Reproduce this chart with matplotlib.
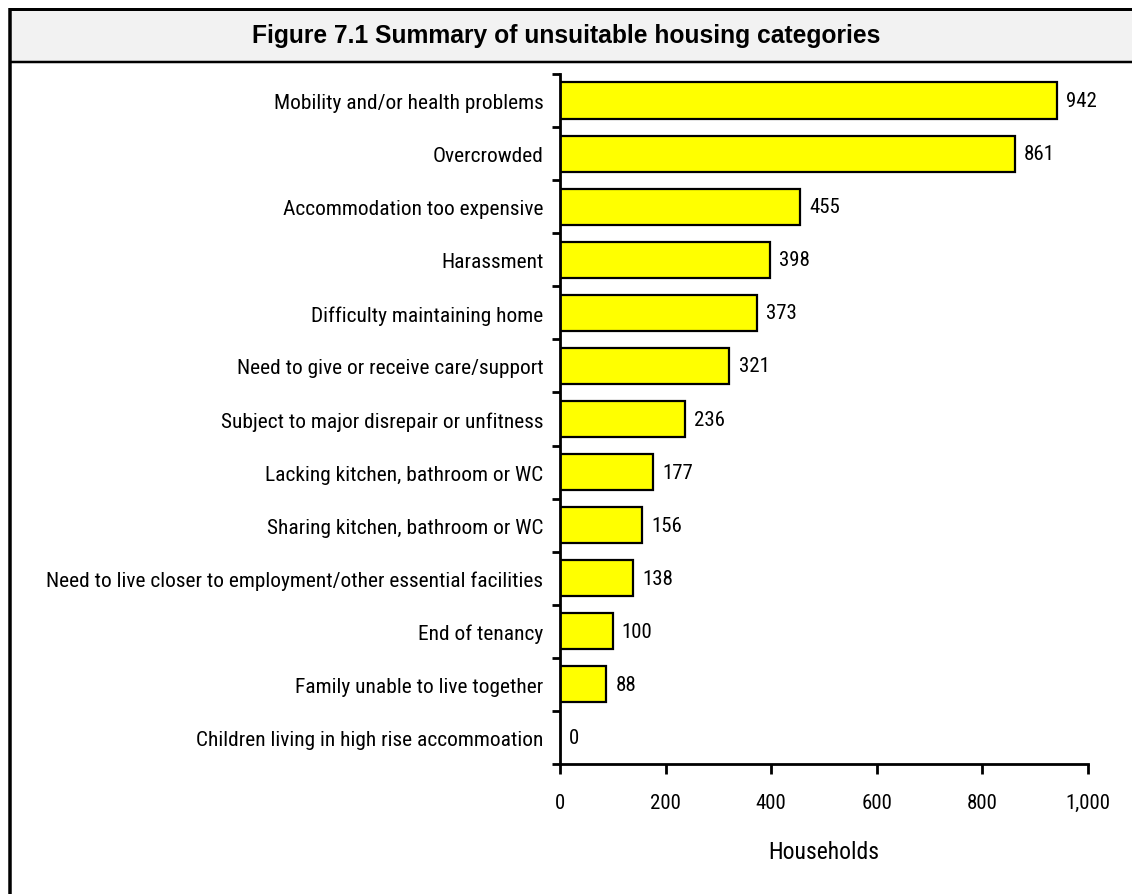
import matplotlib
matplotlib.use("Agg")
import matplotlib.pyplot as plt
from matplotlib import font_manager
from matplotlib.patches import Rectangle
from matplotlib.lines import Line2D
from matplotlib.ticker import FuncFormatter, FixedLocator

categories = [
    "Mobility and/or health problems",
    "Overcrowded",
    "Accommodation too expensive",
    "Harassment",
    "Difficulty maintaining home",
    "Need to give or receive care/support",
    "Subject to major disrepair or unfitness",
    "Lacking kitchen, bathroom or WC",
    "Sharing kitchen, bathroom or WC",
    "Need to live closer to employment/other essential facilities",
    "End of tenancy",
    "Family unable to live together",
    "Children living in high rise accommoation",
]
households = [942, 861, 455, 398, 373, 321, 236, 177, 156, 138, 100, 88, 0]
x_ticks = [0, 200, 400, 600, 800, 1000]
title = "Figure 7.1 Summary of unsuitable housing categories"
x_label = "Households"

names = {f.name for f in font_manager.fontManager.ttflist}
narrow = next((f for f in ["Liberation Sans Narrow", "Arial Narrow", "Roboto Condensed",
                           "PT Sans Narrow", "Archivo Narrow", "Sofia Sans Condensed"]
               if f in names), "Liberation Sans")

W, H = 1132, 895
fig = plt.figure(figsize=(W / 100, H / 100), dpi=100)

# frame: title band and left rule
fig.patches.append(Rectangle((10 / W, 1 - 63 / H), 1.0, (63 - 10) / H,
                             transform=fig.transFigure, facecolor="#f2f2f2",
                             edgecolor="none", zorder=0))
for (x0, y0, x1, y1, lw) in [(9.5, 10, W + 5, 10, 3), (9.5, 63, W + 5, 63, 2.5),
                             (9.5, 8.5, 9.5, H + 5, 3.5)]:
    fig.add_artist(Line2D([x0 / W, x1 / W], [1 - y0 / H, 1 - y1 / H],
                          transform=fig.transFigure, color="black", lw=lw * 0.72,
                          solid_capstyle="butt"))
fig.text(566 / W, 1 - 35.5 / H, title, ha="center", va="center",
         fontsize=17.7, fontweight="bold", family="Liberation Sans")

ax = fig.add_axes([560 / W, 1 - 765 / H, (1088 - 560) / W, (765 - 75) / H])
n = len(categories)
ypos = list(range(n))
ax.barh(ypos, households, height=0.68, color="#ffff00", edgecolor="black",
        linewidth=1.6, zorder=2)
ax.set_ylim(n - 0.5, -0.5)
ax.set_xlim(0, 1000)

for y, v in zip(ypos, households):
    ax.annotate(str(v), (v, y), xytext=(6.5, 0), textcoords="offset points",
                va="center", ha="left", fontsize=15, family=narrow)

ax.set_yticks(ypos)
ax.set_yticklabels(categories, fontsize=15.4, family=narrow)
ax.yaxis.set_minor_locator(FixedLocator([i - 0.5 for i in range(n + 1)]))
ax.tick_params(axis="y", which="major", length=0, pad=12)
ax.tick_params(axis="y", which="minor", length=6, width=2, direction="out")

ax.set_xticks(x_ticks)
ax.xaxis.set_major_formatter(FuncFormatter(lambda v, p: f"{int(v):,}"))
ax.tick_params(axis="x", length=7, width=2, direction="out", pad=14, labelsize=15)
for lab in ax.get_xticklabels():
    lab.set_family(narrow)
ax.set_xlabel(x_label, fontsize=17, family=narrow, labelpad=20)

for side in ["top", "right"]:
    ax.spines[side].set_visible(False)
for side in ["left", "bottom"]:
    ax.spines[side].set_linewidth(2)

fig.savefig("out.png", dpi=100)
